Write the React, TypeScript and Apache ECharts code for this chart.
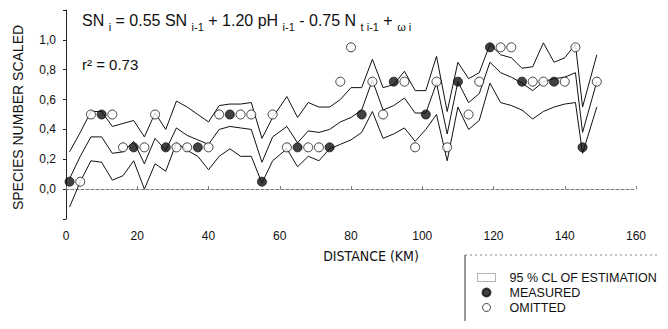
import React, { useEffect, useRef } from "react";
import * as echarts from "echarts";

const distanceKm = [1, 4, 7, 10, 13, 16, 19, 22, 25, 28, 31, 34, 37, 40, 43, 46, 49, 52, 55, 58, 62, 65, 68, 71, 74, 77, 80, 83, 86, 89, 92, 95, 98, 101, 104, 107, 110, 113, 116, 119, 122, 125, 128, 131, 134, 137, 140, 143, 145, 149];
const upperCL = [0.25, 0.38, 0.52, 0.52, 0.42, 0.44, 0.46, 0.35, 0.51, 0.40, 0.59, 0.55, 0.50, 0.45, 0.56, 0.57, 0.57, 0.58, 0.34, 0.48, 0.62, 0.48, 0.58, 0.55, 0.55, 0.60, 0.68, 0.68, 0.87, 0.68, 0.70, 0.79, 0.66, 0.66, 0.89, 0.52, 0.85, 0.74, 0.78, 0.97, 0.90, 0.88, 0.81, 0.82, 0.98, 0.85, 0.88, 0.97, 0.55, 0.90];
const estimate = [0.07, 0.22, 0.35, 0.35, 0.24, 0.25, 0.32, 0.17, 0.34, 0.26, 0.41, 0.36, 0.33, 0.30, 0.40, 0.42, 0.41, 0.40, 0.18, 0.35, 0.42, 0.31, 0.39, 0.38, 0.40, 0.45, 0.48, 0.53, 0.73, 0.53, 0.56, 0.61, 0.51, 0.51, 0.71, 0.37, 0.72, 0.58, 0.64, 0.85, 0.78, 0.75, 0.71, 0.66, 0.72, 0.74, 0.75, 0.78, 0.38, 0.72];
const lowerCL = [-0.12, 0.05, 0.19, 0.18, 0.06, 0.09, 0.19, 0.0, 0.17, 0.12, 0.31, 0.26, 0.22, 0.13, 0.22, 0.27, 0.22, 0.22, 0.04, 0.19, 0.27, 0.15, 0.22, 0.19, 0.27, 0.30, 0.33, 0.38, 0.52, 0.34, 0.37, 0.41, 0.32, 0.40, 0.50, 0.19, 0.55, 0.40, 0.46, 0.71, 0.58, 0.56, 0.53, 0.47, 0.52, 0.55, 0.57, 0.58, 0.24, 0.55];

const measuredKm = [1, 10, 19, 28, 37, 46, 55, 65, 74, 83, 92, 101, 110, 119, 128, 137, 145];
const measuredVal = [0.05, 0.5, 0.28, 0.28, 0.28, 0.5, 0.05, 0.28, 0.28, 0.5, 0.72, 0.5, 0.72, 0.95, 0.72, 0.72, 0.28];
const omittedKm = [4, 7, 13, 16, 22, 25, 31, 34, 40, 43, 49, 52, 58, 62, 68, 71, 77, 80, 86, 89, 95, 98, 104, 107, 113, 116, 122, 125, 131, 134, 140, 143, 149];
const omittedVal = [0.05, 0.5, 0.5, 0.28, 0.28, 0.5, 0.28, 0.28, 0.28, 0.5, 0.5, 0.5, 0.5, 0.28, 0.28, 0.28, 0.72, 0.95, 0.72, 0.5, 0.72, 0.28, 0.72, 0.28, 0.5, 0.72, 0.95, 0.95, 0.72, 0.72, 0.72, 0.95, 0.72];

const xTicks = { min: 0, max: 160, interval: 20 };
const yTicks = { min: -0.2, max: 1.2, interval: 0.2 };

const FONT = "'Liberation Sans', Arial, sans-serif";
const NARROW = "'Liberation Sans Narrow', 'Arial Narrow', 'DejaVu Sans Condensed', 'Liberation Sans', sans-serif";
const CL_NAME = "95 % CL OF ESTIMATION";

export default function App() {
  const ref = useRef<HTMLDivElement>(null);
  useEffect(() => {
    if (!ref.current) return;
    const chart = echarts.init(ref.current, undefined, { renderer: "svg" });
    const pair = (xs: number[], ys: number[]) => xs.map((x, i) => [x, ys[i]]);
    const lineStyle = { color: "#111", width: 1 };
    chart.setOption({
      animation: false,
      backgroundColor: "#fff",
      textStyle: { fontFamily: FONT, color: "#111" },
      grid: { left: 66, right: 32, top: 10, bottom: 110 },
      xAxis: {
        type: "value",
        min: xTicks.min,
        max: xTicks.max,
        interval: xTicks.interval,
        name: "DISTANCE (KM)",
        nameLocation: "middle",
        nameGap: 30,
        nameTextStyle: { fontSize: 14, color: "#111", fontFamily: NARROW, padding: [0, 0, 0, 40] },
        axisLine: { show: true, lineStyle: { color: "#777", width: 1, type: [3, 2] } },
        axisTick: { show: true, inside: true, length: 3, lineStyle: { color: "#777" } },
        axisLabel: { fontSize: 12, color: "#111", margin: 11, fontFamily: FONT },
        splitLine: { show: false },
      },
      yAxis: {
        type: "value",
        min: yTicks.min,
        max: yTicks.max,
        interval: yTicks.interval,
        name: "SPECIES NUMBER SCALED",
        nameLocation: "middle",
        nameGap: 41,
        nameRotate: 90,
        nameTextStyle: { fontSize: 14, color: "#111", fontFamily: FONT, padding: [0, 6, 0, 0] },
        axisLine: { show: true, lineStyle: { color: "#222", width: 1 } },
        axisTick: { show: true, length: 3, lineStyle: { color: "#222" } },
        axisLabel: {
          fontSize: 12,
          color: "#111",
          margin: 10,
          fontFamily: FONT,
          formatter: (v: number) => (v < -0.01 || v > 1.01 ? "" : v.toFixed(1).replace(".", ",")),
        },
        splitLine: { show: false },
      },
      legend: {
        orient: "vertical",
        left: 472,
        top: 265,
        itemWidth: 18,
        itemHeight: 8,
        itemGap: 0,
        textStyle: { fontSize: 12.5, lineHeight: 15, color: "#111", fontFamily: FONT, padding: [0, 0, 0, 9] },
        data: [
          { name: CL_NAME, icon: "rect", itemStyle: { color: "#fff", borderColor: "#666", borderWidth: 1, borderType: "dotted" } },
          { name: "MEASURED", icon: "circle", itemStyle: { color: "#111" } },
          { name: "OMITTED", icon: "circle", itemStyle: { color: "#fff", borderColor: "#111", borderWidth: 1 } },
        ],
      },
      graphic: [
        {
          type: "text",
          left: 82,
          top: 12,
          style: {
            text: "{m|SN }{s|i}{m| = 0.55 SN }{s|i-1}{m| + 1.20 pH }{s|i-1}{m| - 0.75 N }{s|t i-1}{m| + }{s|ω i}",
            rich: {
              m: { fontSize: 16, fontFamily: FONT, fill: "#111", lineHeight: 18, verticalAlign: "top" },
              s: { fontSize: 11, fontFamily: FONT, fill: "#111", lineHeight: 12, verticalAlign: "top", padding: [9, 0, 0, 0] },
            },
          },
        },
        {
          type: "text",
          left: 82,
          top: 57,
          style: { text: "r² = 0.73", fontSize: 15, fontFamily: FONT, fill: "#111" },
        },
        {
          type: "line",
          shape: { x1: 465, y1: 255, x2: 668, y2: 255 },
          style: { stroke: "#888", lineWidth: 1, lineDash: [2, 3] },
        },
        {
          type: "line",
          shape: { x1: 465, y1: 255, x2: 465, y2: 329 },
          style: { stroke: "#333", lineWidth: 1 },
        },
      ],
      series: [
        { name: CL_NAME, type: "line", data: pair(distanceKm, upperCL), symbol: "none", lineStyle, itemStyle: { color: "#111" } },
        { name: "estimate", type: "line", data: pair(distanceKm, estimate), symbol: "none", lineStyle, itemStyle: { color: "#111" } },
        { name: CL_NAME, type: "line", data: pair(distanceKm, lowerCL), symbol: "none", lineStyle, itemStyle: { color: "#111" } },
        {
          name: "MEASURED",
          type: "scatter",
          data: pair(measuredKm, measuredVal),
          symbol: "circle",
          symbolSize: 9,
          itemStyle: { color: "#111", borderColor: "#111", borderWidth: 1 },
          z: 5,
        },
        {
          name: "OMITTED",
          type: "scatter",
          data: pair(omittedKm, omittedVal),
          symbol: "circle",
          symbolSize: 9,
          itemStyle: { color: "#fff", borderColor: "#111", borderWidth: 1 },
          z: 5,
        },
      ],
    });
    return () => chart.dispose();
  }, []);
  return <div ref={ref} style={{ width: 668, height: 329, margin: -8 }} />;
}
